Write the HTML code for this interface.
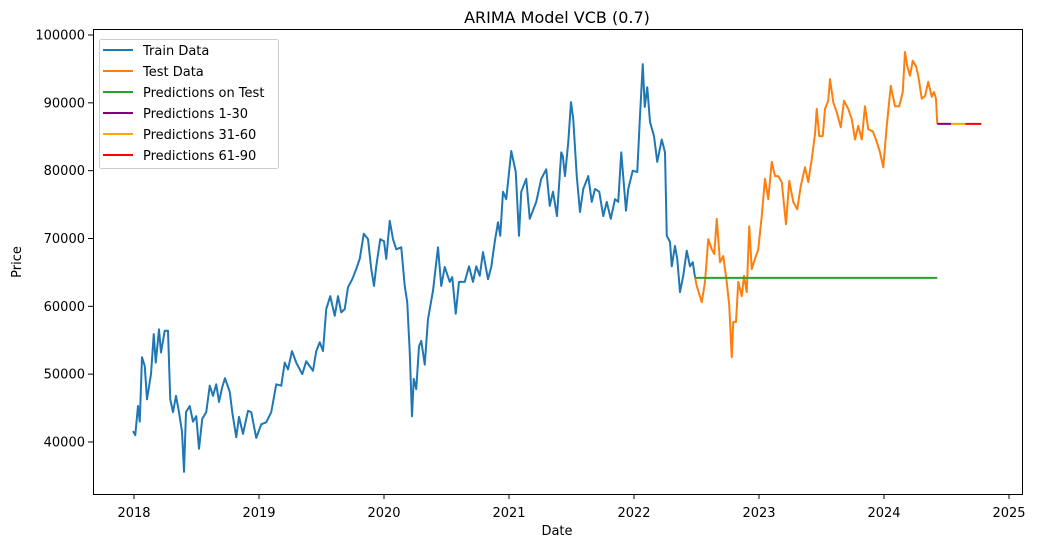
<!DOCTYPE html>
<html><head><meta charset="utf-8">
<style>
html,body{margin:0;padding:0;background:#fff;}
svg{display:block;font-family:"DejaVu Sans","Liberation Sans",sans-serif;}
</style></head>
<body>
<svg id="chart" width="1037" height="547" viewBox="0 0 1037 547" xmlns="http://www.w3.org/2000/svg">
<rect x="0" y="0" width="1037" height="547" fill="#fff"/>
<text x="557" y="23" font-size="16" text-anchor="middle" fill="#000">ARIMA Model VCB (0.7)</text>
<g id="plot"></g>
<rect x="93.5" y="29.5" width="929" height="465" fill="none" stroke="#000" stroke-width="1"/>
<g id="ticks"></g>
<text x="557" y="535" font-size="13" text-anchor="middle">Date</text>
<text x="21" y="262" font-size="13" text-anchor="middle" transform="rotate(-90 21 262)">Price</text>
<g id="legend"></g>
</svg>
<script>
const xTicks=[2018,2019,2020,2021,2022,2023,2024,2025];
const yTicks=[40000,50000,60000,70000,80000,90000,100000];
const trainValues=[41600,41000,45300,43000,52500,51200,46300,50000,55900,51700,56600,53200,56400,56400,46300,44400,46800,44400,41500,35600,44400,45300,43000,43800,39000,43400,44400,48300,46800,48500,45900,48100,49400,47400,44400,40700,43700,41200,44600,44400,40600,42600,42900,44400,48500,48300,51700,50700,53400,51700,50000,51900,50500,53400,54700,53400,59600,61500,58600,61500,59100,59600,62800,64000,65500,67000,70700,69900,65500,63000,65900,69900,69600,67000,72600,69900,68400,68700,63000,60600,53200,43800,49300,47800,54100,54900,51400,58100,62300,68700,63000,65800,63600,64300,58900,63600,63600,65900,63600,65900,64500,68000,64000,65800,69500,72400,70400,76900,75800,82900,79800,70400,76900,78800,72900,75400,78800,80200,74800,76900,73300,82700,82200,79200,84200,90100,87600,79200,73900,77300,79200,75400,77300,76900,73300,75400,72900,75800,75400,82700,74100,77300,80000,79800,88100,95700,89400,92300,87200,85100,81300,84600,82700,70400,69500,65900,68900,67000,62100,64500,68200,65900,66500,64300];
const trainOffsets=[-0.008,0.010,0.032,0.046,0.064,0.086,0.104,0.136,0.158,0.174,0.200,0.216,0.246,0.272,0.290,0.312,0.336,0.360,0.384,0.400,0.416,0.446,0.472,0.498,0.520,0.546,0.578,0.606,0.632,0.658,0.680,0.706,0.728,0.766,0.786,0.818,0.840,0.872,0.912,0.938,0.978,1.018,1.058,1.098,1.138,1.178,1.206,1.232,1.264,1.298,1.346,1.378,1.432,1.458,1.486,1.512,1.538,1.570,1.606,1.632,1.658,1.686,1.712,1.746,1.778,1.806,1.838,1.872,1.898,1.920,1.938,1.970,2.000,2.018,2.046,2.072,2.098,2.138,2.166,2.186,2.206,2.224,2.238,2.258,2.280,2.298,2.326,2.352,2.392,2.432,2.458,2.486,2.526,2.546,2.574,2.600,2.646,2.680,2.712,2.738,2.766,2.792,2.832,2.858,2.886,2.912,2.930,2.952,2.978,3.018,3.054,3.080,3.098,3.138,3.166,3.218,3.258,3.298,3.326,3.352,3.384,3.418,3.430,3.448,3.474,3.496,3.514,3.542,3.568,3.594,3.634,3.662,3.688,3.722,3.754,3.782,3.814,3.848,3.874,3.898,3.936,3.954,3.990,4.026,4.048,4.070,4.086,4.106,4.128,4.160,4.186,4.222,4.248,4.262,4.288,4.302,4.328,4.346,4.368,4.394,4.422,4.448,4.470,4.488];
const testOffsets=[4.488,4.502,4.542,4.568,4.594,4.622,4.642,4.662,4.688,4.714,4.742,4.762,4.782,4.794,4.816,4.834,4.862,4.880,4.902,4.922,4.942,4.968,4.994,5.022,5.048,5.074,5.102,5.128,5.154,5.182,5.216,5.242,5.274,5.306,5.334,5.368,5.394,5.422,5.448,5.462,5.482,5.510,5.528,5.554,5.568,5.594,5.622,5.654,5.680,5.714,5.742,5.768,5.794,5.822,5.848,5.874,5.910,5.936,5.968,5.994,6.022,6.054,6.088,6.122,6.150,6.168,6.186,6.208,6.230,6.256,6.274,6.302,6.328,6.354,6.382,6.400,6.416,6.426];
const testValues=[64300,63000,60600,63600,69900,68400,67700,72900,66500,67400,63600,60100,52500,57700,57700,63600,61500,64500,62100,71800,65500,67000,68400,73300,78800,75800,81300,79200,79200,78300,72100,78500,75400,74300,77700,80500,78300,81700,85400,89100,85100,85100,89100,90300,93500,90100,88600,86400,90300,89100,87600,84600,86600,84600,89500,86100,85800,84600,82700,80500,86600,92500,89500,89500,91600,97500,95400,94000,96200,95400,94000,90600,91000,93100,90900,91600,90600,86900];
const predTest={start:2022.488,end:2024.426,value:64200};
const pred1={start:2024.426,end:2024.538,value:86900};
const pred2={start:2024.538,end:2024.650,value:86900};
const pred3={start:2024.650,end:2024.778,value:86900};

const NS="http://www.w3.org/2000/svg";
function xS(yr){return 134+(yr-2018)*125;}
function yS(v){return 35+(100000-v)/10000*67.83;}
function mk(tag,attrs,parent){const e=document.createElementNS(NS,tag);for(const k in attrs)e.setAttribute(k,attrs[k]);parent.appendChild(e);return e;}
const plot=document.getElementById('plot');
const ticks=document.getElementById('ticks');
const legend=document.getElementById('legend');

function line(dates,vals,color,name){
  const pts=dates.map((d,i)=>xS(d).toFixed(2)+','+yS(vals[i]).toFixed(2)).join(' ');
  const p=mk('polyline',{points:pts,fill:'none',stroke:color,'stroke-width':2,'stroke-linejoin':'round'},plot);
  
  
}
line(trainOffsets.map(o=>2018+o),trainValues,'#1f77b4','train-data-line');
line(testOffsets.map(o=>2018+o),testValues,'#ff7f0e','test-data-line');
line([predTest.start,predTest.end],[predTest.value,predTest.value],'#2ca02c','predictions-on-test-line');
line([pred1.start,pred1.end],[pred1.value,pred1.value],'#800080','predictions-1-30-line');
line([pred2.start,pred2.end],[pred2.value,pred2.value],'#ffa500','predictions-31-60-line');
line([pred3.start,pred3.end],[pred3.value,pred3.value],'#ff0000','predictions-61-90-line');

xTicks.forEach(t=>{
  const x=xS(t);
  const l=mk('line',{x1:x,x2:x,y1:494,y2:499,stroke:'#000'},ticks);
  
  
  const tx=mk('text',{x:x,y:517,'font-size':13,'text-anchor':'middle'},ticks);
  tx.textContent=t;
  
  
});
yTicks.forEach(t=>{
  const y=yS(t);
  const l=mk('line',{x1:88,x2:93,y1:y,y2:y,stroke:'#000'},ticks);
  
  
  const tx=mk('text',{x:85,y:y+4.5,'font-size':13,'text-anchor':'end'},ticks);
  tx.textContent=t;
  
  
});

const legItems=[['Train Data','#1f77b4'],['Test Data','#ff7f0e'],['Predictions on Test','#2ca02c'],['Predictions 1-30','#800080'],['Predictions 31-60','#ffa500'],['Predictions 61-90','#ff0000']];
const box=mk('rect',{x:99.5,y:39.5,width:179,height:129,rx:2,fill:'#fff','fill-opacity':0.8,stroke:'#ccc'},legend);


legItems.forEach((it,i)=>{
  const y=50+i*21;
  const g=mk('g',{},legend);
  
  
  mk('line',{x1:103,x2:133,y1:y,y2:y,stroke:it[1],'stroke-width':2},g);
  const t=mk('text',{x:143,y:y+5,'font-size':13},g);
  t.textContent=it[0];
});
</script>
</body></html>
